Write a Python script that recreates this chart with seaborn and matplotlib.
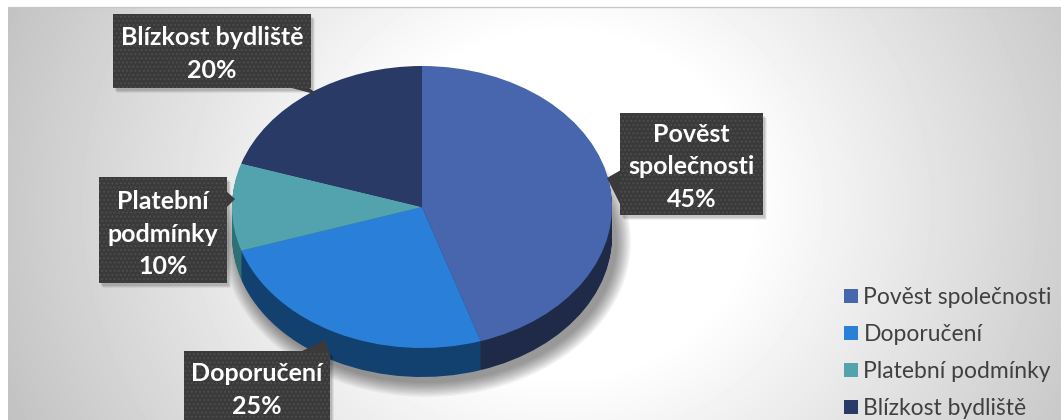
import numpy as np
import matplotlib
matplotlib.use("Agg")
import matplotlib.pyplot as plt
from matplotlib.patches import Rectangle, Polygon, Ellipse
import seaborn as sns

# ---- data ----
categories = ["Pověst společnosti", "Doporučení", "Platební podmínky", "Blízkost bydliště"]
shares = [45, 25, 10, 20]
label_text = ["Pověst\nspolečnosti", "Doporučení", "Platební\npodmínky", "Blízkost bydliště"]

top_colors = sns.color_palette(["#4866ad", "#2a80d8", "#52a3ad", "#2a3a67"])
side_colors = sns.color_palette(["#1f2a48", "#12406f", "#2f6f76", "#172240"])

sns.set_theme(style="white")
plt.rcParams["font.family"] = ["Lato", "DejaVu Sans"]

W, H = 1061, 420
fig = plt.figure(figsize=(W / 100, H / 100), dpi=100, facecolor="white")

# ---- background: radial grey gradient ----
ax_bg = fig.add_axes([0, 0, 1, 1])
ax_bg.set_xlim(0, W)
ax_bg.set_ylim(H, 0)
ax_bg.axis("off")
bx0, by0 = 8, 7
yy, xx = np.mgrid[by0:H, bx0:W] + 0.5
r = np.hypot(xx - 560, (yy - 205) / 0.9)
t = np.clip((r - 190) / (600 - 190), 0, 1)
shade = 1 - 0.24 * t
ax_bg.imshow(shade, cmap="gray", vmin=0, vmax=1, extent=(bx0, W, H, by0),
             interpolation="bilinear", aspect="auto")
ax_bg.plot([bx0, W], [by0, by0], color="#c8c8c8", lw=1)

# ---- 3D pie ----
cx, cy, a, b = 422, 207, 190, 141
depth_px = 29
depth = depth_px / b

ax_pie = fig.add_axes([0, 0, 1, 1])
ax_pie.patch.set_alpha(0)

# soft drop shadow beneath the pie
for g in np.linspace(14, 0, 12):
    ax_pie.add_patch(Ellipse((5 / a, -(depth_px + 6) / b), 2 * (a + g) / a, 2 * (b + g) / b,
                             facecolor="black", alpha=0.04, lw=0))

# side wall built from stacked layers
n_layers = 30
for k in range(n_layers):
    d = depth * (1 - k / n_layers)
    ax_pie.pie(shares, colors=side_colors, startangle=90, counterclock=False,
               center=(0, -d), wedgeprops=dict(linewidth=0))

# top face
wedges, _ = ax_pie.pie(shares, colors=top_colors, startangle=90, counterclock=False,
                       wedgeprops=dict(linewidth=0))
ax_pie.set_aspect("auto")
ax_pie.set_xlim(-cx / a, (W - cx) / a)
ax_pie.set_ylim((cy - H) / b, cy / b)
ax_pie.axis("off")

# ---- callout labels ----
ax_lab = fig.add_axes([0, 0, 1, 1])
ax_lab.patch.set_alpha(0)
ax_lab.set_xlim(0, W)
ax_lab.set_ylim(H, 0)
ax_lab.axis("off")

box_fc = "#3a3a3a"
boxes = [
    # (x0, y0, x1, y1, pointer polygon, text centre y)
    (620, 113, 763, 215, [(621, 170), (621, 206), (607, 178)], 167),
    (184, 351, 330, 440, [(300, 352), (329, 352), (325, 340)], 390),
    (99, 177, 227, 283, [(226, 191), (226, 208), (235, 199)], 234),
    (113, 14, 311, 88, [(288, 87), (308, 87), (318, 95)], 54),
]

for (x0, y0, x1, y1, ptr, ty), name, val in zip(boxes, label_text, shares):
    w, h = x1 - x0, y1 - y0
    for s, al in [(5, 0.06), (4, 0.08), (3, 0.1)]:
        ax_lab.add_patch(Rectangle((x0 + s - 1, y0 + s), w, h, facecolor="black", alpha=al, lw=0))
    ax_lab.add_patch(Polygon(ptr, closed=True, facecolor=box_fc, lw=0))
    ax_lab.add_patch(Rectangle((x0, y0), w, h, facecolor=box_fc, lw=0))
    ax_lab.add_patch(Rectangle((x0, y0), w, h, fill=False, edgecolor="#4c4c4c", lw=0, hatch="...."))
    ax_lab.text((x0 + x1) / 2, ty, f"{name}\n{val}%", ha="center", va="center",
                color="white", fontweight="bold", fontsize=18, linespacing=1.5)

# ---- legend ----
leg = ax_lab.legend(wedges, categories, loc="upper left", bbox_to_anchor=(844, 287),
                    bbox_transform=ax_lab.transData, frameon=False, fontsize=16.5,
                    handlelength=0.6, handleheight=0.6, handletextpad=0.25,
                    labelspacing=0.7, borderpad=0, borderaxespad=0)
for txt in leg.get_texts():
    txt.set_color("#404040")

fig.savefig("out.png", dpi=100, facecolor="white")
